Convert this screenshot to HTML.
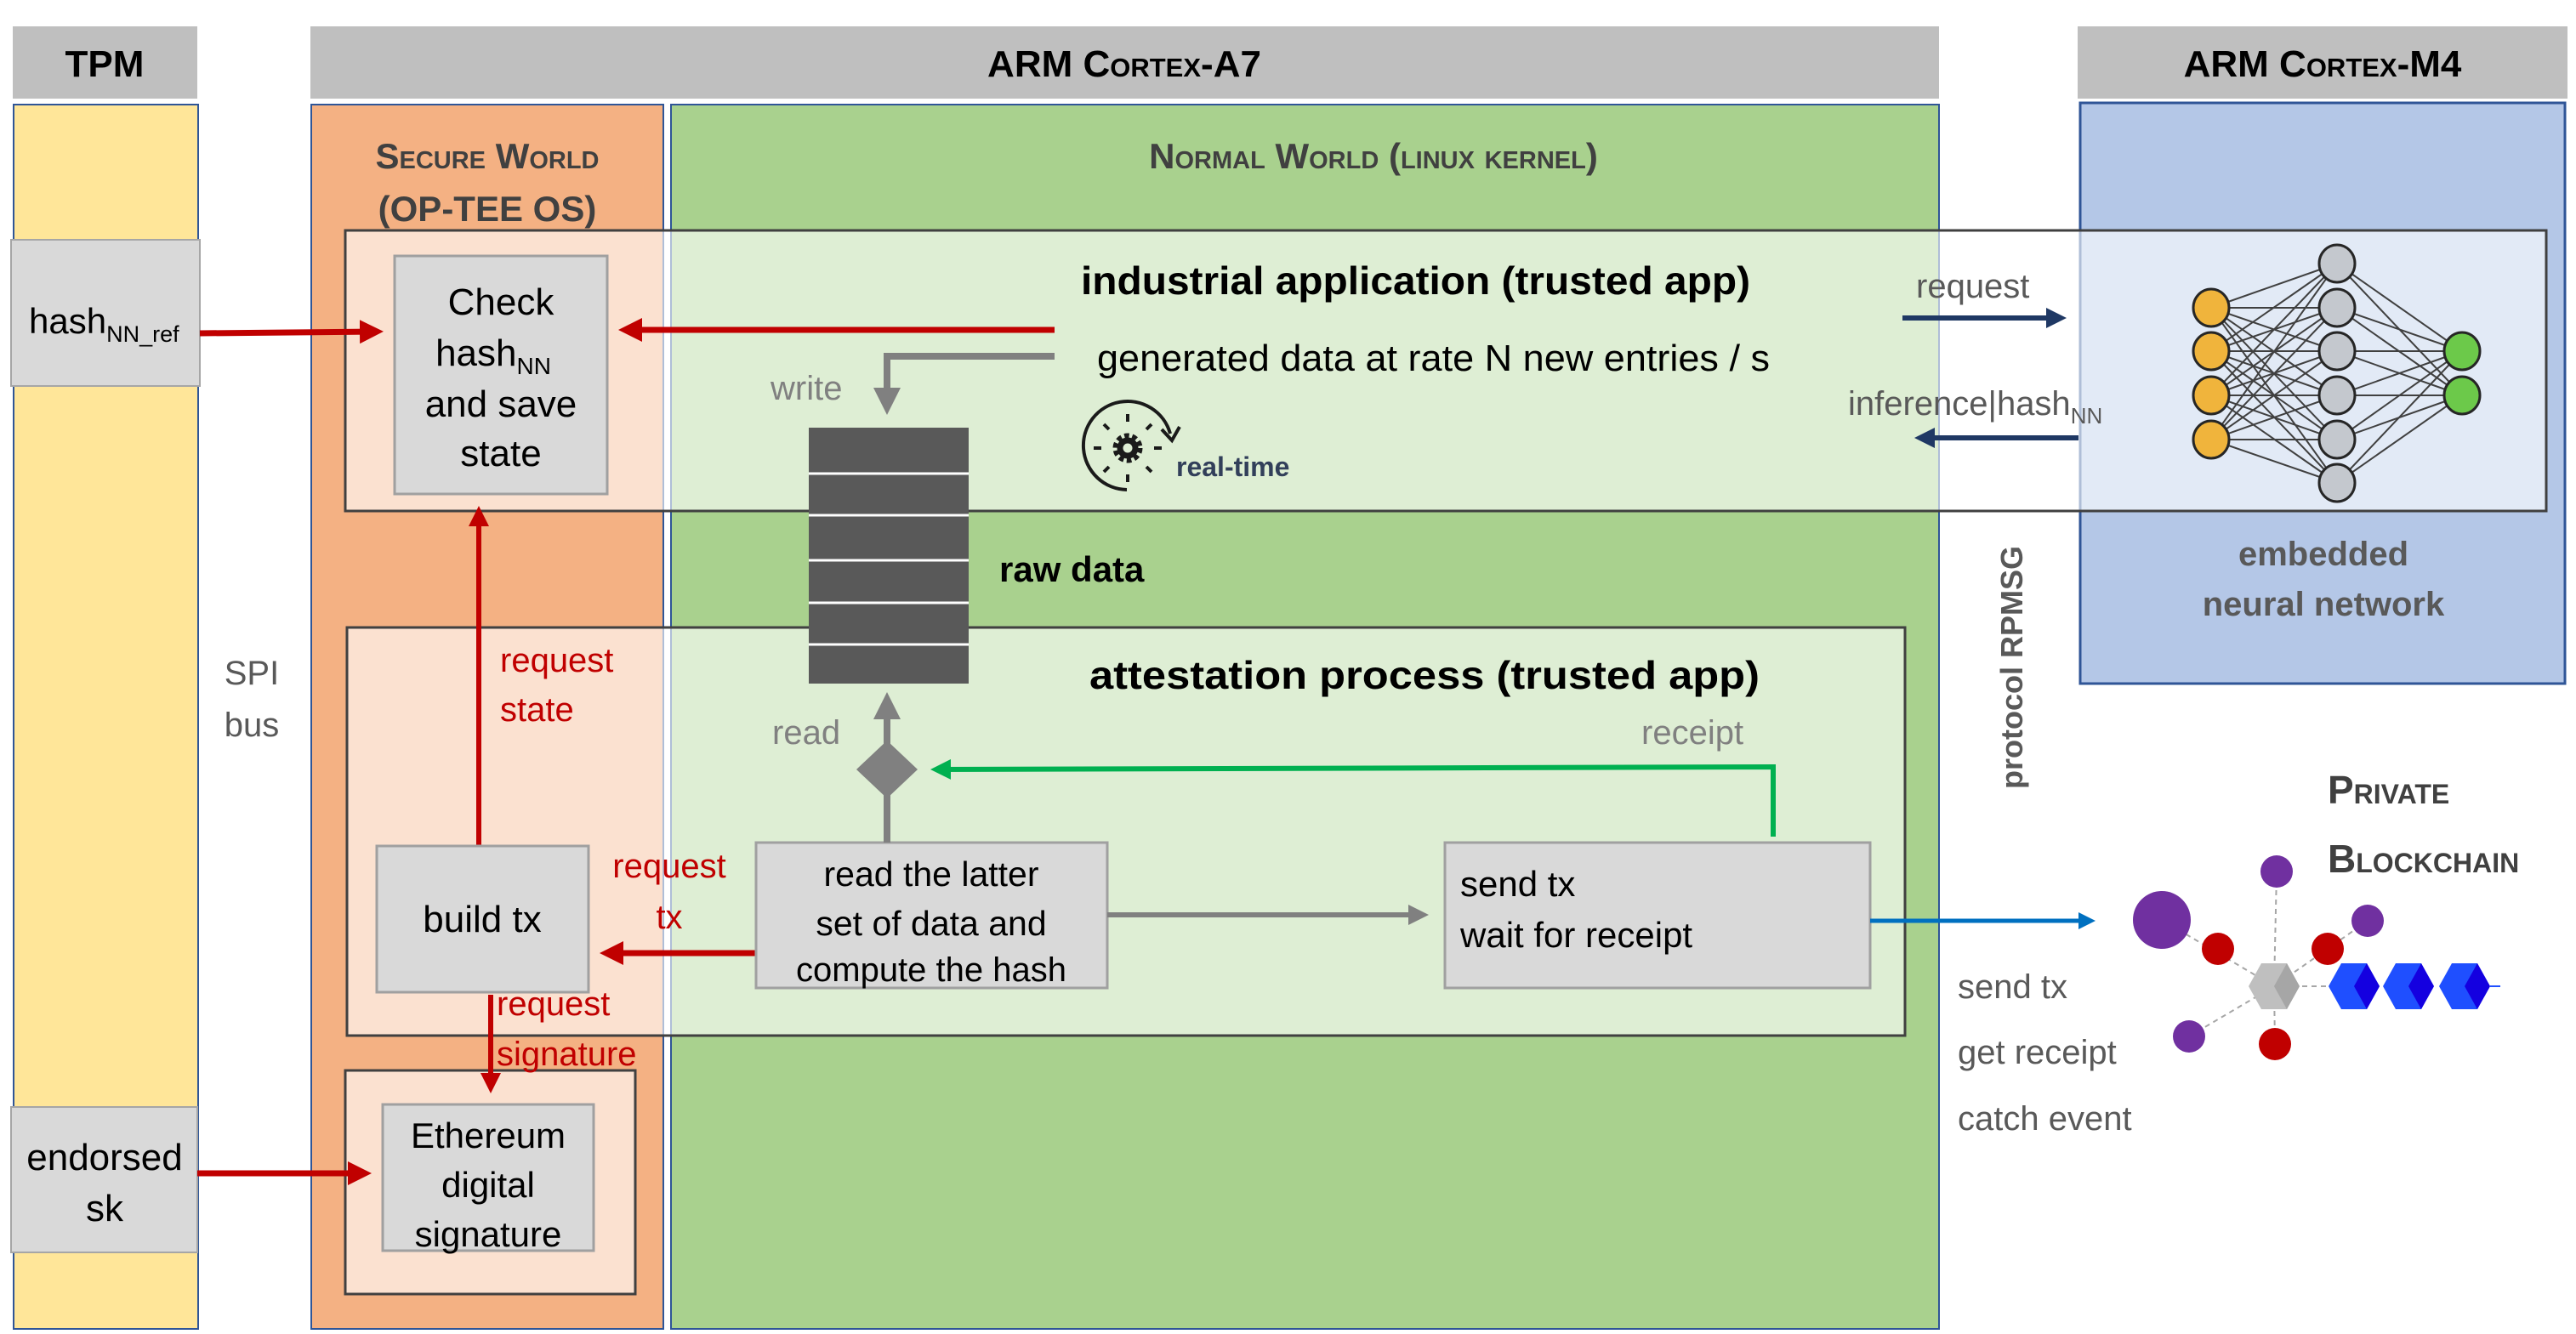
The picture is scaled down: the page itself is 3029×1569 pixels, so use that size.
<!DOCTYPE html>
<html><head><meta charset="utf-8"><style>
html,body{margin:0;padding:0;background:#fff;}
svg{display:block;}
text{font-family:"Liberation Sans Narrow","Liberation Sans",sans-serif;}
</style></head><body>
<svg width="3029" height="1569" viewBox="0 0 3029 1569" xmlns="http://www.w3.org/2000/svg">
<defs>
<marker id="ar" markerWidth="4" markerHeight="4" refX="3" refY="2" orient="auto" markerUnits="strokeWidth"><path d="M0,0 L4,2 L0,4 z" fill="#c00000"/></marker>
<marker id="ag" markerWidth="4" markerHeight="4" refX="3" refY="2" orient="auto" markerUnits="strokeWidth"><path d="M0,0 L4,2 L0,4 z" fill="#808080"/></marker>
<marker id="agr" markerWidth="4" markerHeight="4" refX="3" refY="2" orient="auto" markerUnits="strokeWidth"><path d="M0,0 L4,2 L0,4 z" fill="#00b050"/></marker>
<marker id="ab" markerWidth="4" markerHeight="4" refX="3" refY="2" orient="auto" markerUnits="strokeWidth"><path d="M0,0 L4,2 L0,4 z" fill="#0070c0"/></marker>
<marker id="an" markerWidth="4" markerHeight="4" refX="3" refY="2" orient="auto" markerUnits="strokeWidth"><path d="M0,0 L4,2 L0,4 z" fill="#1f3864"/></marker>
</defs>

<rect x="15" y="31" width="217" height="85" fill="#bfbfbf"/>
<text x="123" y="90" font-size="44" font-weight="bold" text-anchor="middle" fill="#000">TPM</text>
<rect x="365" y="31" width="1915" height="85" fill="#bfbfbf"/>
<text x="1322" y="90" font-size="44" font-weight="bold" text-anchor="middle" fill="#000" style="font-variant:small-caps">ARM Cortex-A7</text>
<rect x="2443" y="31" width="576" height="85" fill="#bfbfbf"/>
<text x="2731" y="90" font-size="44" font-weight="bold" text-anchor="middle" fill="#000" style="font-variant:small-caps">ARM Cortex-M4</text>

<rect x="16" y="123" width="217" height="1440" fill="#ffe699" stroke="#2f5597" stroke-width="2"/>
<rect x="366" y="123" width="414" height="1440" fill="#f4b183" stroke="#2f5597" stroke-width="2"/>
<rect x="789" y="123" width="1491" height="1440" fill="#a9d18e" stroke="#2f5597" stroke-width="2"/>
<rect x="2446" y="121" width="570" height="683" fill="#b4c7e7" stroke="#2f5597" stroke-width="3"/>

<text x="573" y="198" font-size="42" font-weight="bold" text-anchor="middle" fill="#404040" style="font-variant:small-caps">Secure World</text>
<text x="573" y="260" font-size="42" font-weight="bold" text-anchor="middle" fill="#404040">(OP-TEE OS)</text>
<text x="1615" y="198" font-size="42" font-weight="bold" text-anchor="middle" fill="#404040" style="font-variant:small-caps">Normal World (linux kernel)</text>

<rect x="406" y="271" width="2588" height="330" fill="#ffffff" fill-opacity="0.62" stroke="#404040" stroke-width="3"/>
<rect x="408" y="738" width="1832" height="480" fill="#ffffff" fill-opacity="0.62" stroke="#404040" stroke-width="3"/>
<rect x="406" y="1259" width="341" height="263" fill="#ffffff" fill-opacity="0.62" stroke="#404040" stroke-width="3"/>

<rect x="13" y="282" width="222" height="172" fill="#d9d9d9" stroke="#a6a6a6" stroke-width="2"/>
<text x="34" y="392" font-size="42" fill="#000">hash<tspan font-size="27" dy="10">NN_ref</tspan></text>
<rect x="13" y="1302" width="219" height="171" fill="#d9d9d9" stroke="#a6a6a6" stroke-width="2"/>
<text x="123" y="1376" font-size="44" text-anchor="middle" fill="#000">endorsed</text>
<text x="123" y="1436" font-size="44" text-anchor="middle" fill="#000">sk</text>

<text x="296" y="805" font-size="40" text-anchor="middle" fill="#595959">SPI</text>
<text x="296" y="866" font-size="40" text-anchor="middle" fill="#595959">bus</text>

<rect x="464" y="301" width="250" height="280" fill="#d9d9d9" stroke="#a0a0a0" stroke-width="3"/>
<text x="589" y="370" font-size="44" text-anchor="middle" fill="#000">Check</text>
<text x="580" y="430" font-size="44" text-anchor="middle" fill="#000">hash<tspan font-size="28" dy="10">NN</tspan></text>
<text x="589" y="490" font-size="44" text-anchor="middle" fill="#000">and save</text>
<text x="589" y="548" font-size="44" text-anchor="middle" fill="#000">state</text>

<line x1="235" y1="392" x2="444" y2="390" stroke="#c00000" stroke-width="7" marker-end="url(#ar)"/>
<line x1="1240" y1="388" x2="734" y2="388" stroke="#c00000" stroke-width="7" marker-end="url(#ar)"/>

<text x="1271" y="346" font-size="46" font-weight="bold" fill="#000" textLength="787" lengthAdjust="spacingAndGlyphs">industrial application (trusted app)</text>
<text x="1290" y="436" font-size="44" fill="#000" textLength="791" lengthAdjust="spacingAndGlyphs">generated data at rate N new entries / s</text>

<polyline points="1240,419 1043,419 1043,480" fill="none" stroke="#808080" stroke-width="8" marker-end="url(#ag)"/>
<text x="906" y="470" font-size="40" fill="#808080">write</text>

<g fill="none" stroke="#1a1a1a" stroke-width="4">
<path d="M1325,576 A52,52 0 1,1 1376,510"/>
<path d="M1366,505 L1378,518 L1387,502"/>
<circle cx="1326" cy="527" r="13" stroke-width="9" stroke-dasharray="5,3.2"/>
<circle cx="1326" cy="527" r="9" stroke-width="7"/>
<line x1="1326" y1="487" x2="1326" y2="496"/><line x1="1326" y1="558" x2="1326" y2="567"/>
<line x1="1286" y1="527" x2="1295" y2="527"/><line x1="1357" y1="527" x2="1366" y2="527"/>
<line x1="1298" y1="499" x2="1304" y2="505"/><line x1="1348" y1="549" x2="1354" y2="555"/>
<line x1="1298" y1="555" x2="1304" y2="549"/><line x1="1348" y1="505" x2="1354" y2="499"/>
</g>
<text x="1383" y="560" font-size="32" font-weight="bold" fill="#323f5a" font-family="Liberation Sans, sans-serif">real-time</text>

<rect x="951" y="503" width="188" height="301" fill="#595959"/>
<g stroke="#ffffff" stroke-width="3">
<line x1="951" y1="557" x2="1139" y2="557"/><line x1="951" y1="606" x2="1139" y2="606"/>
<line x1="951" y1="659" x2="1139" y2="659"/><line x1="951" y1="709" x2="1139" y2="709"/>
<line x1="951" y1="758" x2="1139" y2="758"/>
</g>
<text x="1175" y="684" font-size="42" font-weight="bold" fill="#000">raw data</text>

<text x="1281" y="810" font-size="46" font-weight="bold" fill="#000" textLength="788" lengthAdjust="spacingAndGlyphs">attestation process (trusted app)</text>

<line x1="563" y1="995" x2="563" y2="601" stroke="#c00000" stroke-width="6" marker-end="url(#ar)"/>
<text x="588" y="790" font-size="40" fill="#c00000">request</text>
<text x="588" y="848" font-size="40" fill="#c00000">state</text>

<rect x="443" y="995" width="249" height="172" fill="#d9d9d9" stroke="#a0a0a0" stroke-width="3"/>
<text x="567" y="1096" font-size="44" text-anchor="middle" fill="#000">build tx</text>
<text x="787" y="1032" font-size="40" text-anchor="middle" fill="#c00000">request</text>
<text x="787" y="1092" font-size="40" text-anchor="middle" fill="#c00000">tx</text>
<line x1="889" y1="1121" x2="712" y2="1121" stroke="#c00000" stroke-width="7" marker-end="url(#ar)"/>

<line x1="577" y1="1170" x2="577" y2="1280" stroke="#c00000" stroke-width="6" marker-end="url(#ar)"/>
<text x="584" y="1194" font-size="40" fill="#c00000">request</text>
<text x="584" y="1253" font-size="40" fill="#c00000">signature</text>

<rect x="450" y="1299" width="248" height="172" fill="#d9d9d9" stroke="#a0a0a0" stroke-width="3"/>
<text x="574" y="1350" font-size="42" text-anchor="middle" fill="#000">Ethereum</text>
<text x="574" y="1408" font-size="42" text-anchor="middle" fill="#000">digital</text>
<text x="574" y="1466" font-size="42" text-anchor="middle" fill="#000">signature</text>
<line x1="232" y1="1380" x2="430" y2="1380" stroke="#c00000" stroke-width="7" marker-end="url(#ar)"/>

<rect x="889" y="991" width="413" height="171" fill="#d9d9d9" stroke="#a0a0a0" stroke-width="3"/>
<text x="1095" y="1042" font-size="41" text-anchor="middle" fill="#000">read the latter</text>
<text x="1095" y="1100" font-size="41" text-anchor="middle" fill="#000">set of data and</text>
<text x="1095" y="1154" font-size="40" text-anchor="middle" fill="#000">compute the hash</text>

<line x1="1043" y1="991" x2="1043" y2="822" stroke="#808080" stroke-width="8" marker-end="url(#ag)"/>
<polygon points="1043,871 1079,905 1043,939 1007,905" fill="#808080"/>
<text x="908" y="875" font-size="40" fill="#808080">read</text>

<polyline points="2085,984 2085,902 1100,905" fill="none" stroke="#00b050" stroke-width="6" marker-end="url(#agr)"/>
<text x="1930" y="875" font-size="40" fill="#808080">receipt</text>

<line x1="1302" y1="1076" x2="1674" y2="1076" stroke="#808080" stroke-width="6" marker-end="url(#ag)"/>

<rect x="1699" y="991" width="500" height="171" fill="#d9d9d9" stroke="#a0a0a0" stroke-width="3"/>
<text x="1717" y="1054" font-size="42" fill="#000">send tx</text>
<text x="1717" y="1114" font-size="42" fill="#000">wait for receipt</text>

<line x1="2199" y1="1083" x2="2459" y2="1083" stroke="#0070c0" stroke-width="5" marker-end="url(#ab)"/>

<line x1="2237" y1="374" x2="2424" y2="374" stroke="#1f3864" stroke-width="6" marker-end="url(#an)"/>
<line x1="2444" y1="515" x2="2257" y2="515" stroke="#1f3864" stroke-width="6" marker-end="url(#an)"/>
<text x="2253" y="350" font-size="40" fill="#595959">request</text>
<text x="2173" y="488" font-size="40" fill="#595959">inference|hash<tspan font-size="26" dy="10">NN</tspan></text>

<text transform="translate(2378,785) rotate(-90)" font-size="36" font-weight="bold" text-anchor="middle" fill="#595959" font-family="Liberation Sans, sans-serif">protocol RPMSG</text>

<g stroke="#404040" stroke-width="2">
<line x1="2600" y1="362" x2="2748" y2="310"/><line x1="2600" y1="362" x2="2748" y2="362"/><line x1="2600" y1="362" x2="2748" y2="413"/><line x1="2600" y1="362" x2="2748" y2="465"/><line x1="2600" y1="362" x2="2748" y2="517"/><line x1="2600" y1="362" x2="2748" y2="568"/>
<line x1="2600" y1="413" x2="2748" y2="310"/><line x1="2600" y1="413" x2="2748" y2="362"/><line x1="2600" y1="413" x2="2748" y2="413"/><line x1="2600" y1="413" x2="2748" y2="465"/><line x1="2600" y1="413" x2="2748" y2="517"/><line x1="2600" y1="413" x2="2748" y2="568"/>
<line x1="2600" y1="465" x2="2748" y2="310"/><line x1="2600" y1="465" x2="2748" y2="362"/><line x1="2600" y1="465" x2="2748" y2="413"/><line x1="2600" y1="465" x2="2748" y2="465"/><line x1="2600" y1="465" x2="2748" y2="517"/><line x1="2600" y1="465" x2="2748" y2="568"/>
<line x1="2600" y1="517" x2="2748" y2="310"/><line x1="2600" y1="517" x2="2748" y2="362"/><line x1="2600" y1="517" x2="2748" y2="413"/><line x1="2600" y1="517" x2="2748" y2="465"/><line x1="2600" y1="517" x2="2748" y2="517"/><line x1="2600" y1="517" x2="2748" y2="568"/>
<line x1="2748" y1="310" x2="2895" y2="413"/><line x1="2748" y1="310" x2="2895" y2="465"/>
<line x1="2748" y1="362" x2="2895" y2="413"/><line x1="2748" y1="362" x2="2895" y2="465"/>
<line x1="2748" y1="413" x2="2895" y2="413"/><line x1="2748" y1="413" x2="2895" y2="465"/>
<line x1="2748" y1="465" x2="2895" y2="413"/><line x1="2748" y1="465" x2="2895" y2="465"/>
<line x1="2748" y1="517" x2="2895" y2="413"/><line x1="2748" y1="517" x2="2895" y2="465"/>
<line x1="2748" y1="568" x2="2895" y2="413"/><line x1="2748" y1="568" x2="2895" y2="465"/>
</g>
<g stroke="#262626" stroke-width="3">
<ellipse cx="2600" cy="362" rx="21" ry="22" fill="#f0b43c"/><ellipse cx="2600" cy="413" rx="21" ry="22" fill="#f0b43c"/>
<ellipse cx="2600" cy="465" rx="21" ry="22" fill="#f0b43c"/><ellipse cx="2600" cy="517" rx="21" ry="22" fill="#f0b43c"/>
<ellipse cx="2748" cy="310" rx="21" ry="22" fill="#c4c8ce"/><ellipse cx="2748" cy="362" rx="21" ry="22" fill="#c4c8ce"/>
<ellipse cx="2748" cy="413" rx="21" ry="22" fill="#c4c8ce"/><ellipse cx="2748" cy="465" rx="21" ry="22" fill="#c4c8ce"/>
<ellipse cx="2748" cy="517" rx="21" ry="22" fill="#c4c8ce"/><ellipse cx="2748" cy="568" rx="21" ry="22" fill="#c4c8ce"/>
<ellipse cx="2895" cy="413" rx="21" ry="22" fill="#6cc94a"/><ellipse cx="2895" cy="465" rx="21" ry="22" fill="#6cc94a"/>
</g>
<text x="2732" y="665" font-size="40" font-weight="bold" text-anchor="middle" fill="#595959">embedded</text>
<text x="2732" y="724" font-size="40" font-weight="bold" text-anchor="middle" fill="#595959">neural network</text>

<text x="2737" y="945" font-size="46" font-weight="bold" fill="#404040" style="font-variant:small-caps">Private</text>
<text x="2737" y="1026" font-size="46" font-weight="bold" fill="#404040" style="font-variant:small-caps">Blockchain</text>
<text x="2302" y="1174" font-size="40" fill="#595959">send tx</text>
<text x="2302" y="1251" font-size="40" fill="#595959">get receipt</text>
<text x="2302" y="1329" font-size="40" fill="#595959">catch event</text>
<g stroke="#a6a6a6" stroke-width="2" stroke-dasharray="6,5">
<line x1="2542" y1="1082" x2="2674" y2="1160"/><line x1="2677" y1="1025" x2="2674" y2="1160"/>
<line x1="2784" y1="1083" x2="2674" y2="1160"/><line x1="2574" y1="1219" x2="2674" y2="1160"/>
<line x1="2675" y1="1228" x2="2674" y2="1160"/><line x1="2674" y1="1160" x2="2760" y2="1160"/>
</g>
<circle cx="2542" cy="1082" r="34" fill="#7030a0"/>
<circle cx="2677" cy="1025" r="19" fill="#7030a0"/>
<circle cx="2784" cy="1083" r="19" fill="#7030a0"/>
<circle cx="2574" cy="1219" r="19" fill="#7030a0"/>
<circle cx="2608" cy="1116" r="19" fill="#c00000"/>
<circle cx="2737" cy="1116" r="19" fill="#c00000"/>
<circle cx="2675" cy="1228" r="19" fill="#c00000"/>
<polygon points="2644,1160 2659,1133 2689,1133 2704,1160 2689,1187 2659,1187" fill="#bfbfbf"/>
<polygon points="2689,1133 2704,1160 2689,1187 2674,1160" fill="#a6a6a6"/>
<polygon points="2738,1160 2753,1133 2783,1133 2798,1160 2783,1187 2753,1187" fill="#1f4fff"/>
<polygon points="2783,1133 2798,1160 2783,1187 2768,1160" fill="#1400e0"/>
<polygon points="2802,1160 2817,1133 2847,1133 2862,1160 2847,1187 2817,1187" fill="#1f4fff"/>
<polygon points="2847,1133 2862,1160 2847,1187 2832,1160" fill="#1400e0"/>
<polygon points="2868,1160 2883,1133 2913,1133 2928,1160 2913,1187 2883,1187" fill="#1f4fff"/>
<polygon points="2913,1133 2928,1160 2913,1187 2898,1160" fill="#1400e0"/>
<line x1="2928" y1="1160" x2="2940" y2="1160" stroke="#1f4fff" stroke-width="2"/>
</svg>
</body></html>
